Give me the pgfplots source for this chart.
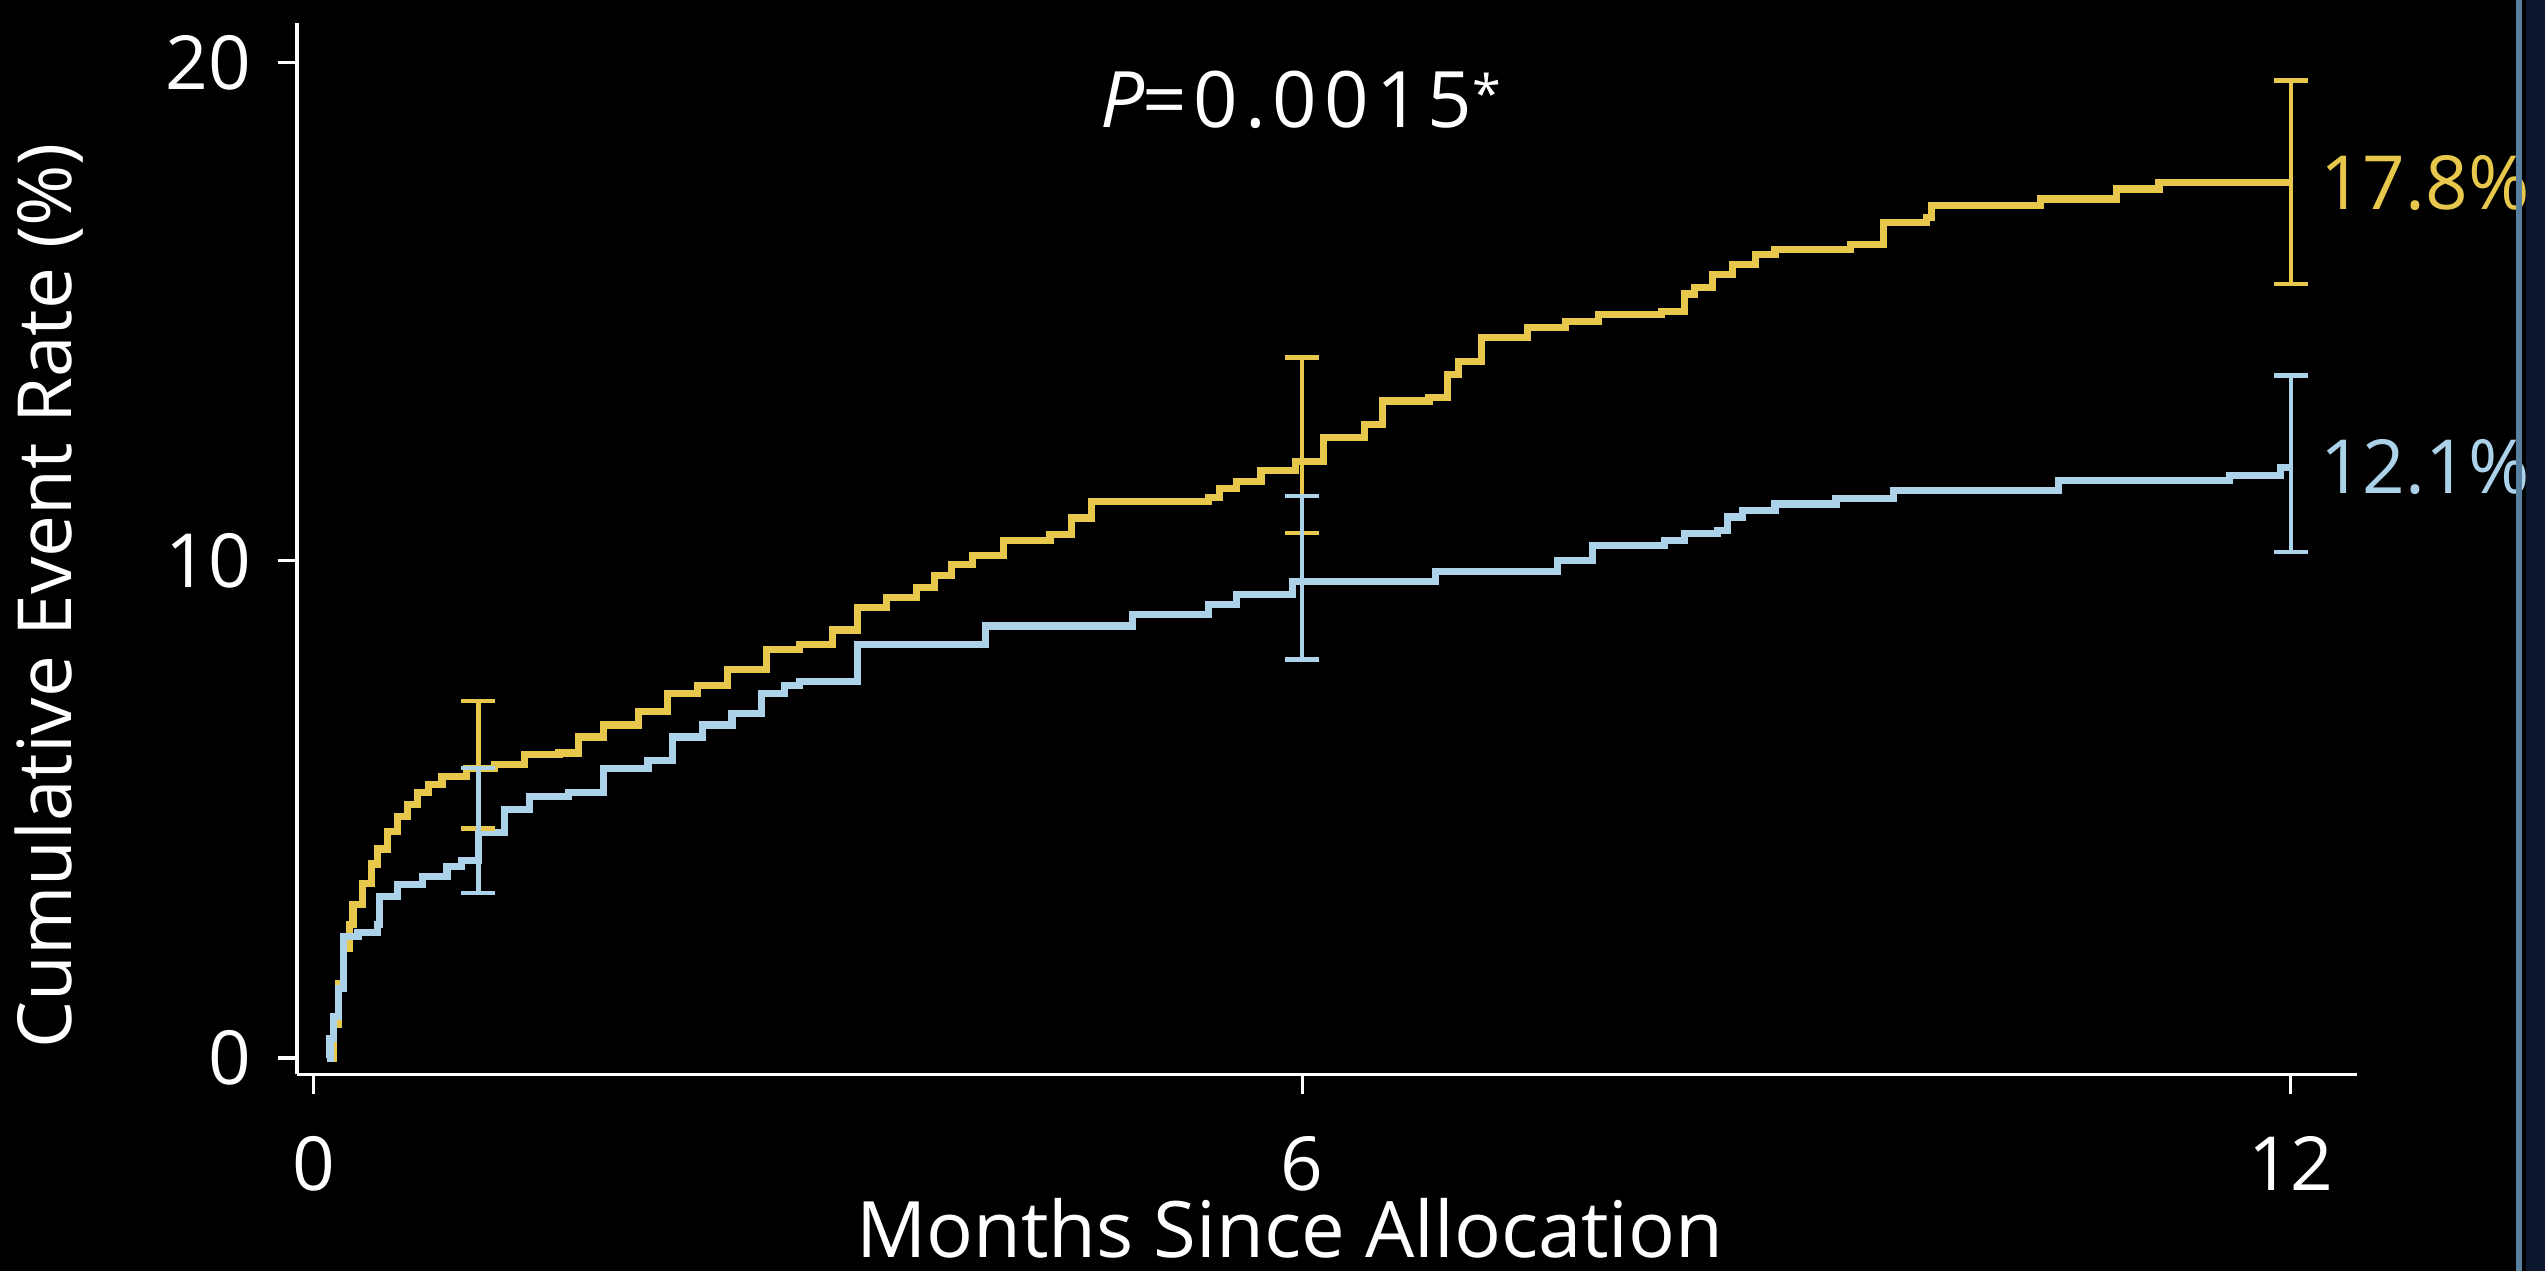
\documentclass[border=0pt]{standalone}
\usepackage{fontspec}
\setmainfont{Open Sans}
\usepackage{pgfplots}
\pgfplotsset{compat=1.18}
\definecolor{gold}{RGB}{232,200,76}
\definecolor{lblue}{RGB}{172,210,234}
\definecolor{edge}{RGB}{88,128,160}
\definecolor{navy}{RGB}{12,22,45}
\begin{document}
\fontsize{11.5}{13.5}\selectfont
\begin{tikzpicture}
\path[use as bounding box, fill=black] (-45.75pt,-30.25pt) rectangle (346.25pt,165.5pt);
\begin{axis}[
  at={(0,0)}, anchor=south west,
  scale only axis, width=317.25pt, height=162pt,
  xmin=-0.1, xmax=12.4, ymin=-0.33, ymax=20.8,
  axis lines*=left, axis line style={white, line width=0.5pt, -},
  xtick={0,6,12}, ytick={0,10,20},
  tick align=outside, major tick length=3pt,
  tick style={white, line width=0.5pt},
  ticklabel style={white, font=\fontsize{11.5}{13.5}\selectfont},
  xticklabel style={yshift=-2.5pt},
  /pgf/number format/assume math mode=true,
  xlabel={Months Since Allocation}, ylabel={Cumulative Event Rate (\%)},
  label style={white, font=\fontsize{11.5}{13.5}\selectfont},
  x label style={at={(axis description cs:0.482,-0.1466)}, anchor=center, font=\fontsize{12}{14}\selectfont},
  y label style={at={(axis description cs:-0.1206,0.455)}, anchor=center},
  clip=false,
]
\addplot[const plot, gold, line width=1.1pt] coordinates {
(0.08,0) (0.12,0.68) (0.15,1.5) (0.18,2.2) (0.22,2.68) (0.24,3.08) (0.3,3.5) (0.35,3.9) (0.39,4.2) (0.45,4.55) (0.51,4.85) (0.57,5.1) (0.63,5.33) (0.7,5.5) (0.78,5.65) (0.93,5.81) (1.1,5.89) (1.28,6.09) (1.49,6.13) (1.61,6.45) (1.76,6.69) (1.97,6.97) (2.15,7.33) (2.33,7.49) (2.51,7.81) (2.75,8.2) (2.95,8.31) (3.15,8.6) (3.3,9.05) (3.48,9.25) (3.66,9.45) (3.77,9.7) (3.87,9.92) (4.0,10.1) (4.19,10.39) (4.47,10.52) (4.6,10.85) (4.72,11.19) (5.43,11.26) (5.5,11.45) (5.6,11.59) (5.75,11.8) (5.96,11.99) (6.13,12.46) (6.38,12.73) (6.49,13.2) (6.77,13.27) (6.88,13.74) (6.95,14.0) (7.09,14.47) (7.37,14.67) (7.6,14.8) (7.8,14.94) (8.18,15.0) (8.32,15.35) (8.38,15.48) (8.49,15.75) (8.61,15.95) (8.75,16.15) (8.87,16.25) (9.33,16.35) (9.53,16.79) (9.79,16.89) (9.82,17.12) (10.48,17.26) (10.94,17.46) (11.2,17.59) (12.0,17.59)
};
\addplot[const plot, lblue, line width=1.1pt] coordinates {
(0.08,0) (0.1,0.4) (0.12,0.84) (0.15,1.4) (0.18,2.44) (0.27,2.52) (0.39,2.68) (0.4,3.24) (0.51,3.48) (0.66,3.65) (0.81,3.85) (0.9,3.97) (1.0,4.53) (1.16,5.0) (1.31,5.25) (1.55,5.33) (1.76,5.81) (2.03,5.97) (2.18,6.45) (2.36,6.69) (2.54,6.93) (2.72,7.33) (2.86,7.49) (2.95,7.57) (3.3,8.31) (4.08,8.68) (4.97,8.91) (5.43,9.11) (5.6,9.32) (5.94,9.58) (6.81,9.78) (7.55,9.99) (7.76,10.3) (8.2,10.4) (8.32,10.53) (8.52,10.6) (8.58,10.87) (8.67,11.0) (8.87,11.13) (9.24,11.24) (9.59,11.4) (10.59,11.6) (11.63,11.7) (11.94,11.87) (12.0,11.87)
};
\addplot[draw=none, mark=none, error bars/.cd, y dir=both, y explicit,
  error bar style={draw=gold, line width=0.7pt},
  error mark options={draw=gold, rotate=90, mark size=2.6pt, line width=0.7pt}]
  coordinates {(1,5.81) += (0,1.36) -= (0,1.2) (6,11.99) += (0,2.08) -= (0,1.44) (12,17.59) += (0,2.05) -= (0,2.04)};
\addplot[draw=none, mark=none, error bars/.cd, y dir=both, y explicit,
  error bar style={draw=lblue, line width=0.7pt},
  error mark options={draw=lblue, rotate=90, mark size=2.6pt, line width=0.7pt}]
  coordinates {(1,4.53) += (0,1.3) -= (0,1.21) (6,9.58) += (0,1.71) -= (0,1.57) (12,11.87) += (0,1.84) -= (0,1.7)};
\node[gold, anchor=west, inner sep=0pt] at (axis cs:12.17,17.59) {17.8\%};
\node[lblue, anchor=west, inner sep=0pt] at (axis cs:12.17,11.87) {12.1\%};
\node[white, font=\fontsize{12}{14}\selectfont] at (axis cs:5.99,19.25) {\addfontfeature{LetterSpace=9}\textit{P}\kern-0.12em=0.0015\raisebox{0.35ex}{\fontsize{8}{8}\selectfont *}};
\end{axis}
\fill[navy] (343.25pt,-30.25pt) rectangle (346.25pt,165.5pt);
\draw[edge, line width=1pt] (342.25pt,-30.25pt) -- (342.25pt,165.5pt);
\end{tikzpicture}
\end{document}
